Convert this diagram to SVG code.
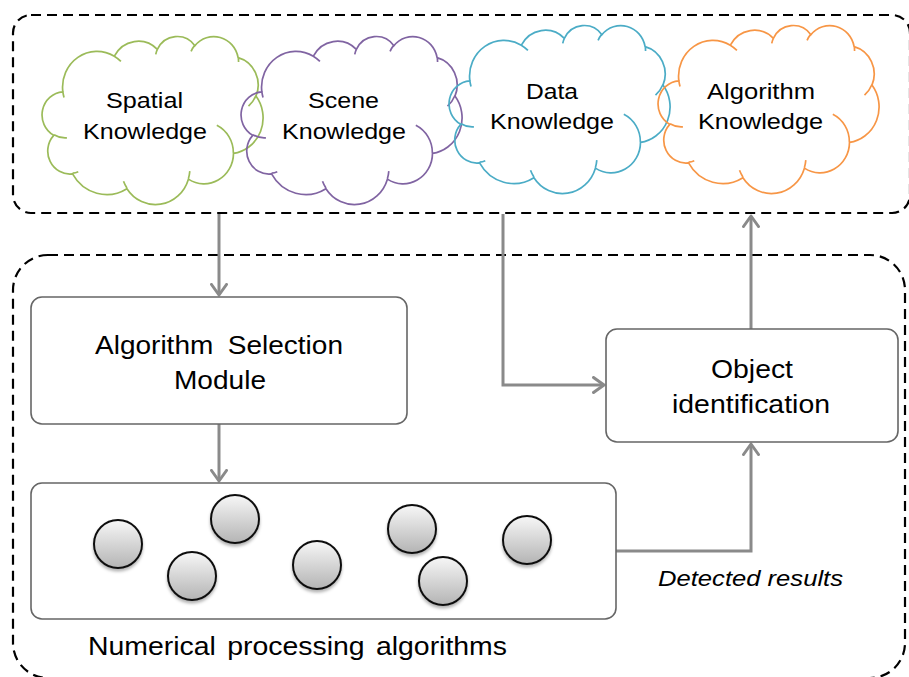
<svg xmlns="http://www.w3.org/2000/svg" xmlns:xlink="http://www.w3.org/1999/xlink" width="909" height="677" viewBox="0 0 909 677">
<style>
  .dash { fill: none; stroke: #000; stroke-width: 2.2; stroke-dasharray: 10 6; }
  .box { fill: #fff; stroke: #666; stroke-width: 1.6; }
  .cloud { fill: none; stroke-width: 1.7; }
  .conn { fill: none; stroke: #8a8a8a; stroke-width: 3; }
  .txt { font-family: "Liberation Sans", Arial, sans-serif; fill: #000; }
  .ball { fill: url(#ballGrad); stroke: #111; stroke-width: 2; filter: url(#shadow); }
</style>
<defs>
  <path id="cloudShape" d="M19.86,55.88 A34.39,35.74 0 0 1 71.32,20.23 A27.16,28.26 0 0 1 114.36,13.34 A22.23,23.12 0 0 1 151.92,9.64 A24.73,25.65 0 0 1 195.13,21.68 A27.16,28.28 0 0 1 212.96,60.12 A34.50,35.86 0 0 1 190.48,117.45 A29.46,30.59 0 0 1 145.41,143.16 A34.39,35.84 0 0 1 83.92,152.69 A39.31,41.00 0 0 1 29.55,137.94 A22.20,23.01 0 0 1 10.75,99.35 A22.13,23.12 0 0 1 19.86,55.88 Z M23.90,101.80 A22.13,23.12 0 0 1 10.99,98.70 M35.28,135.72 A22.20,23.01 0 0 1 29.63,137.21 M83.92,152.02 A34.39,35.84 0 0 1 80.51,145.25 M146.81,135.14 A34.39,35.84 0 0 1 145.44,142.57 M173.81,89.27 A29.46,30.59 0 0 1 190.36,117.01 M212.86,59.71 A27.16,28.28 0 0 1 205.49,70.12 M195.17,21.10 A24.73,25.65 0 0 1 195.57,26.02 M148.08,15.37 A24.73,25.65 0 0 1 151.86,9.10 M112.75,18.36 A22.23,23.12 0 0 1 114.58,12.95 M71.30,20.19 A34.39,35.74 0 0 1 77.92,25.44 M21.02,61.40 A34.39,35.74 0 0 1 19.87,55.89"/>
  <linearGradient id="ballGrad" x1="0" y1="0" x2="0" y2="1">
    <stop offset="0" stop-color="#f7f7f7"/>
    <stop offset="1" stop-color="#b4b4b4"/>
  </linearGradient>
  <filter id="shadow" x="-30%" y="-30%" width="160%" height="170%">
    <feDropShadow dx="0" dy="2.5" stdDeviation="1.5" flood-color="#000" flood-opacity="0.3"/>
  </filter>
  <marker id="arrow" markerUnits="userSpaceOnUse" viewBox="0 0 14 18" markerWidth="14" markerHeight="18" refX="12" refY="9" orient="auto">
    <path d="M1.5,1.5 L12,9 L1.5,16.5" fill="none" stroke="#8a8a8a" stroke-width="3" stroke-linecap="round" stroke-linejoin="round"/>
  </marker>
</defs>

<g id="container-knowledge">
  <rect class="dash" x="13" y="15" width="897" height="198" rx="18"/>
</g>
<g id="container-processing">
  <rect class="dash" x="13" y="255" width="892" height="423" rx="35"/>
</g>

<g id="cloud-spatial">
  <use href="#cloudShape" xlink:href="#cloudShape" class="cloud" stroke="#9bbb59" transform="translate(43,36)"/>
  <text class="txt" font-size="22" x="106" y="108" textLength="77" lengthAdjust="spacingAndGlyphs">Spatial</text>
  <text class="txt" font-size="22" x="83" y="139" textLength="124" lengthAdjust="spacingAndGlyphs">Knowledge</text>
</g>
<g id="cloud-scene">
  <use href="#cloudShape" xlink:href="#cloudShape" class="cloud" stroke="#8064a2" transform="translate(242,36)"/>
  <text class="txt" font-size="22" x="308" y="108" textLength="71" lengthAdjust="spacingAndGlyphs">Scene</text>
  <text class="txt" font-size="22" x="282" y="139" textLength="124" lengthAdjust="spacingAndGlyphs">Knowledge</text>
</g>
<g id="cloud-data">
  <use href="#cloudShape" xlink:href="#cloudShape" class="cloud" stroke="#4bacc6" transform="translate(450,25)"/>
  <text class="txt" font-size="22" x="526" y="99" textLength="52" lengthAdjust="spacingAndGlyphs">Data</text>
  <text class="txt" font-size="22" x="490" y="129" textLength="124" lengthAdjust="spacingAndGlyphs">Knowledge</text>
</g>
<g id="cloud-algorithm">
  <use href="#cloudShape" xlink:href="#cloudShape" class="cloud" stroke="#f79646" transform="translate(659,25)"/>
  <text class="txt" font-size="22" x="707" y="99" textLength="108" lengthAdjust="spacingAndGlyphs">Algorithm</text>
  <text class="txt" font-size="22" x="698" y="129" textLength="125" lengthAdjust="spacingAndGlyphs">Knowledge</text>
</g>

<g id="connectors">
  <path class="conn" d="M219,214 V295" marker-end="url(#arrow)"/>
  <path class="conn" d="M503,214 V385 H604" marker-end="url(#arrow)"/>
  <path class="conn" d="M751,329 V216" marker-end="url(#arrow)"/>
  <path class="conn" d="M616,551 H751 V444" marker-end="url(#arrow)"/>
  <path class="conn" d="M219,424 V481" marker-end="url(#arrow)"/>
  <text class="txt" font-size="22" font-style="italic" x="658" y="586" textLength="185" lengthAdjust="spacingAndGlyphs">Detected results</text>
</g>

<g id="node-selection">
  <rect class="box" x="31" y="297" width="376" height="127" rx="11"/>
  <text class="txt" font-size="25" x="95" y="354" word-spacing="6" textLength="248" lengthAdjust="spacingAndGlyphs">Algorithm Selection</text>
  <text class="txt" font-size="25" x="174" y="389" textLength="92" lengthAdjust="spacingAndGlyphs">Module</text>
</g>

<g id="node-numerical">
  <rect class="box" x="31" y="483" width="585" height="136" rx="11"/>
  <circle class="ball" cx="118" cy="544" r="24"/>
  <circle class="ball" cx="235" cy="519" r="24"/>
  <circle class="ball" cx="192" cy="576" r="24"/>
  <circle class="ball" cx="317" cy="565" r="24"/>
  <circle class="ball" cx="412" cy="529" r="24"/>
  <circle class="ball" cx="443" cy="581" r="24"/>
  <circle class="ball" cx="527" cy="540" r="24"/>
  <text class="txt" font-size="25" x="88" y="655" word-spacing="3" textLength="419" lengthAdjust="spacingAndGlyphs">Numerical processing algorithms</text>
</g>

<g id="node-object">
  <rect class="box" x="606" y="329" width="292" height="113" rx="11"/>
  <text class="txt" font-size="25" x="711" y="378" textLength="82" lengthAdjust="spacingAndGlyphs">Object</text>
  <text class="txt" font-size="25" x="672" y="413" textLength="158" lengthAdjust="spacingAndGlyphs">identification</text>
</g>
</svg>
